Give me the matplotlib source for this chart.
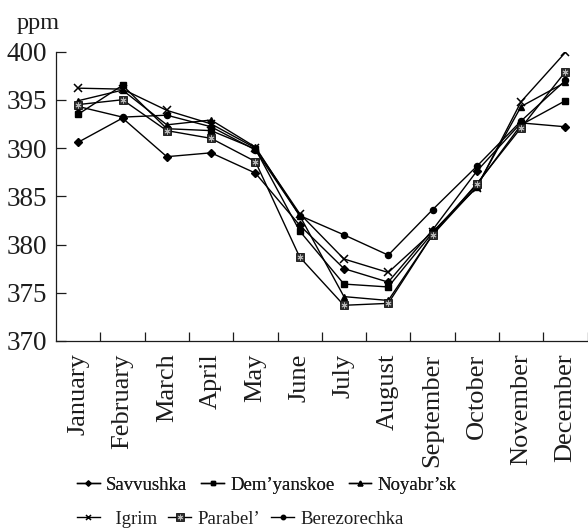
import matplotlib
matplotlib.use("Agg")
import matplotlib.pyplot as plt
import numpy as np

months = ["January", "February", "March", "April", "May", "June", "July",
          "August", "September", "October", "November", "December"]

savvushka = [390.6, 393.1, 389.1, 389.5, 387.4, 382.0, 377.5, 376.1, 381.5, 387.6, 392.6, 392.2]
demyanskoe = [393.5, 396.5, 392.0, 391.8, 389.9, 381.4, 375.9, 375.6, 381.2, 386.2, 392.4, 394.9]
noyabrsk = [394.9, 396.0, 392.4, 392.9, 390.1, 383.0, 374.6, 374.2, 381.0, 386.0, 394.3, 396.8]
igrim = [396.2, 396.1, 393.9, 392.5, 390.0, 383.2, 378.5, 377.1, 381.3, 385.9, 394.8, 399.9]
parabel = [394.5, 395.0, 391.8, 391.0, 388.6, 378.7, 373.7, 373.9, 381.0, 386.3, 392.1, 397.9]
berezorechka = [394.3, 393.2, 393.4, 392.2, 389.8, 383.0, 381.0, 378.9, 383.6, 388.1, 392.8, 397.0]

y_ticks = [370, 375, 380, 385, 390, 395, 400]

SERIF = ["Liberation Serif", "DejaVu Serif"]
plt.rcParams["font.family"] = SERIF
INK = "#1c1c1c"

fig = plt.figure(figsize=(5.88, 5.29), dpi=100)
W, H = 588, 529
ax = fig.add_axes([56.1 / W, 1 - 341 / H, (587.5 - 56.1) / W, (341 - 51.5) / H])

x = np.arange(len(months))
lw = 1.0

l_sav, = ax.plot(x, savvushka, color="black", lw=lw, marker="D", ms=3.6, zorder=3)
l_dem, = ax.plot(x, demyanskoe, color="black", lw=lw, marker="s", ms=4.6, zorder=3)
l_noy, = ax.plot(x, noyabrsk, color="black", lw=lw, marker="^", ms=4.8, zorder=3)
l_igr, = ax.plot(x, igrim, color="black", lw=lw, marker="x", ms=6, mew=1.1, zorder=3)
l_par, = ax.plot(x, parabel, color="black", lw=lw, marker="s", ms=6.2,
                 mfc="#2e2e2e", mec="#111111", mew=0.6, zorder=4)
l_par_star, = ax.plot(x, parabel, ls="none", marker=(6, 2, 0), ms=4.2,
                      mec="#b5b5b5", mew=0.7, zorder=5)
l_ber, = ax.plot(x, berezorechka, color="black", lw=lw, marker="o", ms=4.4, zorder=3)

ax.set_xlim(-0.5, len(months) - 0.5)
ax.set_ylim(370, 400)
ax.set_yticks(y_ticks)
ax.set_yticklabels([str(v) for v in y_ticks])
ax.set_xticks(x)
ax.set_xticklabels(months, rotation=90)
ax.set_xticks(np.arange(len(months)) + 0.5, minor=True)

for side in ("top", "right"):
    ax.spines[side].set_visible(False)
for side in ("left", "bottom"):
    ax.spines[side].set_linewidth(0.9)
    ax.spines[side].set_color(INK)

ax.tick_params(axis="y", direction="in", length=7, width=0.9, pad=6.5,
               labelsize=19.5, colors=INK)
ax.tick_params(axis="x", which="major", length=0, pad=9, labelsize=19,
               colors=INK)
ax.tick_params(axis="x", which="minor", direction="in", length=6.5, width=0.9,
               colors=INK)

fig.text(38 / W, 1 - 29 / H, "ppm", ha="center", va="baseline",
         fontsize=17.5, color=INK)

leg_kw = dict(frameon=False, fontsize=13.5, handlelength=1.2,
              handletextpad=0.35, borderpad=0, borderaxespad=0,
              loc="center left", ncol=3, labelcolor=INK)

def small(line, ms):
    h, = ax.plot([], [], color="black", lw=1.0, marker=line.get_marker(), ms=ms,
                 mfc=line.get_markerfacecolor(), mec=line.get_markeredgecolor(),
                 mew=line.get_markeredgewidth())
    return h

h_sav = small(l_sav, 2.6)
h_dem = small(l_dem, 3.2)
h_noy = small(l_noy, 3.4)
h_igr = small(l_igr, 3.6)
h_par = small(l_par, 6.0)
h_ber = small(l_ber, 3.2)
h_par_star, = ax.plot([], [], ls="none", marker=(6, 2, 0), ms=4.0,
                      mec="#b5b5b5", mew=0.7)

leg1 = fig.legend([h_sav, h_dem, h_noy],
                  ["Savvushka", "Dem\u2019yanskoe", "Noyabr\u2019sk"],
                  bbox_to_anchor=(77 / W, 1 - 485 / H), columnspacing=0.75,
                  **leg_kw)
leg2 = fig.legend([h_igr, (h_par, h_par_star), h_ber],
                  ["  Igrim", "Parabel\u2019", "Berezorechka"],
                  bbox_to_anchor=(77 / W, 1 - 519 / H), columnspacing=0.6,
                  **leg_kw)
fig.add_artist(leg1)

fig.savefig("out.png", dpi=100)
